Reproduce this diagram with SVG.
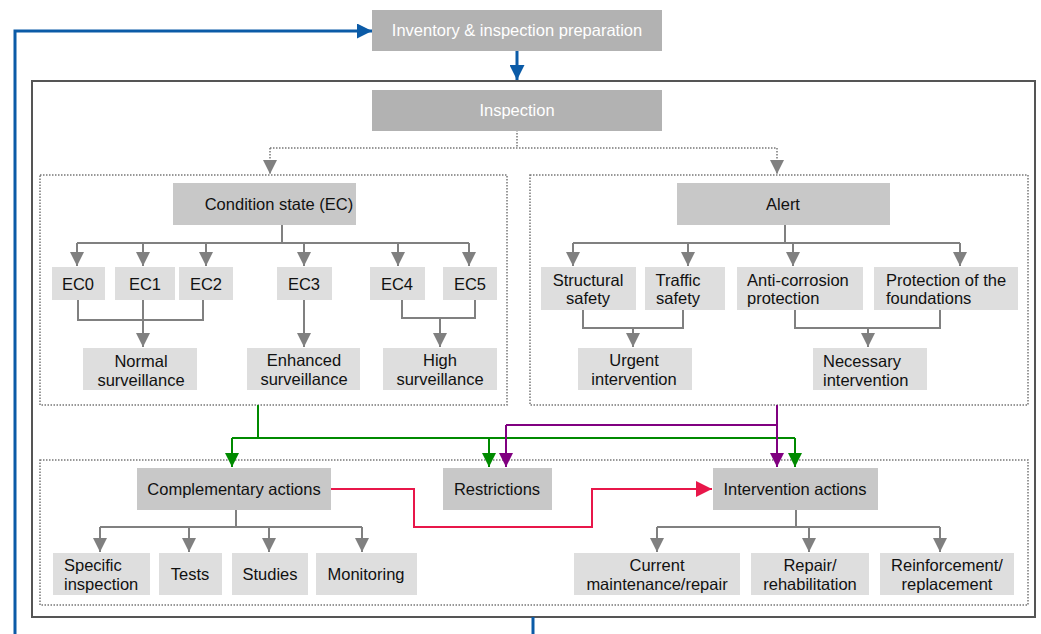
<svg xmlns="http://www.w3.org/2000/svg" width="1041" height="634" viewBox="0 0 1041 634">
<defs>
<style>
text{font-family:"Liberation Sans",Arial,sans-serif;font-size:16.5px;fill:#111;text-anchor:middle}
.w{fill:#fff}
.top{fill:#b2b2b2}
.mid{fill:#c8c8c8}
.lt{fill:#dedede}
.g{fill:none;stroke:#808080;stroke-width:2}
.dot{fill:none;stroke:#777;stroke-width:1.5;stroke-dasharray:1.5 1.5}
</style>
<marker id="agr" viewBox="0 0 10 10" refX="10" refY="5" markerWidth="14" markerHeight="14" orient="auto" markerUnits="userSpaceOnUse"><path d="M0,0L10,5L0,10z" fill="#808080"/></marker>
<marker id="ab" viewBox="0 0 10 10" refX="10" refY="5" markerWidth="15" markerHeight="15" orient="auto" markerUnits="userSpaceOnUse"><path d="M0,0L10,5L0,10z" fill="#0b5ba7"/></marker>
<marker id="agn" viewBox="0 0 10 10" refX="10" refY="5" markerWidth="14" markerHeight="14" orient="auto" markerUnits="userSpaceOnUse"><path d="M0,0L10,5L0,10z" fill="#008a00"/></marker>
<marker id="ap" viewBox="0 0 10 10" refX="10" refY="5" markerWidth="14" markerHeight="14" orient="auto" markerUnits="userSpaceOnUse"><path d="M0,0L10,5L0,10z" fill="#800080"/></marker>
<marker id="ar" viewBox="0 0 10 10" refX="10" refY="5" markerWidth="16" markerHeight="16" orient="auto" markerUnits="userSpaceOnUse"><path d="M0,0L10,5L0,10z" fill="#e8174a"/></marker>
</defs>
<rect width="1041" height="634" fill="#fff"/>

<g id="containers">
<rect x="32" y="81" width="1003" height="536" fill="none" stroke="#555" stroke-width="2"/>
<rect x="40" y="175" width="467" height="230" class="dot"/>
<rect x="530" y="175" width="498" height="230" class="dot"/>
<rect x="40" y="460" width="988" height="145" class="dot"/>
</g>

<g id="connectors">
<path d="M533,617 V634" fill="none" stroke="#0b5ba7" stroke-width="3"/>
<path d="M15,634 V31 H372" fill="none" stroke="#0b5ba7" stroke-width="3" marker-end="url(#ab)"/>
<path d="M517,50 V80" fill="none" stroke="#0b5ba7" stroke-width="3" marker-end="url(#ab)"/>
<path d="M517,130 V148 M270,148 H777" class="dot"/>
<path d="M270,148 V174" class="dot" marker-end="url(#agr)"/>
<path d="M777,148 V174" class="dot" marker-end="url(#agr)"/>
<path d="M282,225 V243 M77,243 H469" class="g"/>
<path d="M77,243 V266" class="g" marker-end="url(#agr)"/>
<path d="M143,243 V266" class="g" marker-end="url(#agr)"/>
<path d="M206,243 V266" class="g" marker-end="url(#agr)"/>
<path d="M304,243 V266" class="g" marker-end="url(#agr)"/>
<path d="M398,243 V266" class="g" marker-end="url(#agr)"/>
<path d="M469,243 V266" class="g" marker-end="url(#agr)"/>
<path d="M78,300 V320 H203 V300" class="g"/>
<path d="M143,300 V347" class="g" marker-end="url(#agr)"/>
<path d="M304,300 V347" class="g" marker-end="url(#agr)"/>
<path d="M402,300 V318 H475 V300" class="g"/>
<path d="M440,318 V347" class="g" marker-end="url(#agr)"/>
<path d="M785,225 V243 M573,243 H960" class="g"/>
<path d="M573,243 V266" class="g" marker-end="url(#agr)"/>
<path d="M688,243 V266" class="g" marker-end="url(#agr)"/>
<path d="M793,243 V266" class="g" marker-end="url(#agr)"/>
<path d="M960,243 V266" class="g" marker-end="url(#agr)"/>
<path d="M583,310 V328 H683 V310" class="g"/>
<path d="M633,328 V347" class="g" marker-end="url(#agr)"/>
<path d="M795,310 V328 H940 V310" class="g"/>
<path d="M868,328 V347" class="g" marker-end="url(#agr)"/>
<path d="M258,405 V438 M232,438 H795" fill="none" stroke="#008a00" stroke-width="2"/>
<path d="M232,438 V467" fill="none" stroke="#008a00" stroke-width="2" marker-end="url(#agn)"/>
<path d="M489,438 V467" fill="none" stroke="#008a00" stroke-width="2" marker-end="url(#agn)"/>
<path d="M795,438 V467" fill="none" stroke="#008a00" stroke-width="2" marker-end="url(#agn)"/>
<path d="M777,405 V425 H506" fill="none" stroke="#800080" stroke-width="2"/>
<path d="M506,425 V467" fill="none" stroke="#800080" stroke-width="2" marker-end="url(#ap)"/>
<path d="M777,425 V467" fill="none" stroke="#800080" stroke-width="2" marker-end="url(#ap)"/>
<path d="M331,489 H414 V527 H592 V489 H712" fill="none" stroke="#e8174a" stroke-width="2" marker-end="url(#ar)"/>
<path d="M236,510 V527 M100,527 H362" class="g"/>
<path d="M100,527 V552" class="g" marker-end="url(#agr)"/>
<path d="M189,527 V552" class="g" marker-end="url(#agr)"/>
<path d="M269,527 V552" class="g" marker-end="url(#agr)"/>
<path d="M362,527 V552" class="g" marker-end="url(#agr)"/>
<path d="M796,510 V527 M657,527 H940" class="g"/>
<path d="M657,527 V552" class="g" marker-end="url(#agr)"/>
<path d="M809,527 V552" class="g" marker-end="url(#agr)"/>
<path d="M940,527 V552" class="g" marker-end="url(#agr)"/>
</g>

<g id="n-inventory"><rect x="372" y="10" width="290" height="41" class="top"/><text x="517" y="36" class="w">Inventory &amp; inspection preparation</text></g>
<g id="n-inspection"><rect x="372" y="90" width="290" height="41" class="top"/><text x="517" y="116" class="w">Inspection</text></g>

<g id="n-condition"><rect x="173" y="183" width="183" height="42" class="mid"/><text x="279" y="210">Condition state (EC)</text></g>
<g id="n-ec0"><rect x="52" y="267" width="53" height="33" class="lt"/><text x="78" y="290">EC0</text></g>
<g id="n-ec1"><rect x="115" y="267" width="60" height="33" class="lt"/><text x="145" y="290">EC1</text></g>
<g id="n-ec2"><rect x="179" y="267" width="54" height="33" class="lt"/><text x="206" y="290">EC2</text></g>
<g id="n-ec3"><rect x="277" y="267" width="55" height="33" class="lt"/><text x="304" y="290">EC3</text></g>
<g id="n-ec4"><rect x="370" y="267" width="55" height="33" class="lt"/><text x="397" y="290">EC4</text></g>
<g id="n-ec5"><rect x="443" y="267" width="54" height="33" class="lt"/><text x="470" y="290">EC5</text></g>
<g id="n-normal"><rect x="83" y="348" width="114" height="42" class="lt"/><text x="141" y="367">Normal</text><text x="141" y="386">surveillance</text></g>
<g id="n-enhanced"><rect x="247" y="348" width="113" height="42" class="lt"/><text x="304" y="366">Enhanced</text><text x="304" y="385">surveillance</text></g>
<g id="n-high"><rect x="383" y="348" width="114" height="42" class="lt"/><text x="440" y="366">High</text><text x="440" y="385">surveillance</text></g>

<g id="n-alert"><rect x="677" y="183" width="213" height="42" class="mid"/><text x="783" y="210">Alert</text></g>
<g id="n-structural"><rect x="541" y="267" width="95" height="43" class="lt"/><text x="588" y="286">Structural</text><text x="588" y="304">safety</text></g>
<g id="n-traffic"><rect x="645" y="267" width="80" height="43" class="lt"/><text x="678" y="286">Traffic</text><text x="678" y="304">safety</text></g>
<g id="n-anticorr"><rect x="737" y="267" width="126" height="43" class="lt"/><text x="747" y="286" style="text-anchor:start">Anti-corrosion</text><text x="747" y="304" style="text-anchor:start">protection</text></g>
<g id="n-foundations"><rect x="874" y="267" width="144" height="43" class="lt"/><text x="886" y="286" style="text-anchor:start">Protection of the</text><text x="886" y="304" style="text-anchor:start">foundations</text></g>
<g id="n-urgent"><rect x="578" y="348" width="114" height="42" class="lt"/><text x="634" y="366">Urgent</text><text x="634" y="385">intervention</text></g>
<g id="n-necessary"><rect x="813" y="348" width="114" height="42" class="lt"/><text x="823" y="367" style="text-anchor:start">Necessary</text><text x="823" y="386" style="text-anchor:start">intervention</text></g>

<g id="n-complementary"><rect x="137" y="468" width="194" height="42" class="mid"/><text x="234" y="495">Complementary actions</text></g>
<g id="n-restrictions"><rect x="443" y="468" width="109" height="42" class="mid"/><text x="497" y="495">Restrictions</text></g>
<g id="n-intervention"><rect x="713" y="468" width="165" height="42" class="mid"/><text x="795" y="495">Intervention actions</text></g>
<g id="n-specific"><rect x="53" y="553" width="97" height="42" class="lt"/><text x="64" y="571" style="text-anchor:start">Specific</text><text x="64" y="590" style="text-anchor:start">inspection</text></g>
<g id="n-tests"><rect x="159" y="553" width="63" height="42" class="lt"/><text x="190" y="580">Tests</text></g>
<g id="n-studies"><rect x="232" y="553" width="76" height="42" class="lt"/><text x="270" y="580">Studies</text></g>
<g id="n-monitoring"><rect x="316" y="553" width="101" height="42" class="lt"/><text x="366" y="580">Monitoring</text></g>
<g id="n-current"><rect x="574" y="553" width="166" height="42" class="lt"/><text x="657" y="571">Current</text><text x="657" y="590">maintenance/repair</text></g>
<g id="n-repair"><rect x="751" y="553" width="118" height="42" class="lt"/><text x="810" y="571">Repair/</text><text x="810" y="590">rehabilitation</text></g>
<g id="n-reinforcement"><rect x="880" y="553" width="134" height="42" class="lt"/><text x="947" y="571">Reinforcement/</text><text x="947" y="590">replacement</text></g>
</svg>
